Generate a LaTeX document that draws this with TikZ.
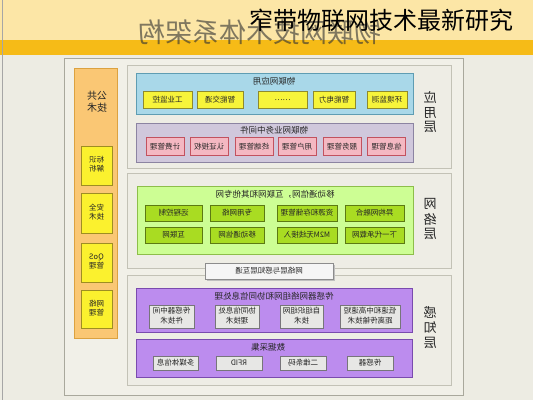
\documentclass[tikz,border=0pt]{standalone}
\usepackage{fontspec}
\setmainfont{Noto Sans CJK SC}
\usepackage{graphicx}
\newcommand\mt[1]{\reflectbox{\begin{tabular}{@{}c@{}}#1\end{tabular}}}
\definecolor{bgc}{HTML}{EDECE3}
\definecolor{topy}{HTML}{FCE6A6}
\definecolor{topo}{HTML}{F6BB17}
\definecolor{framef}{HTML}{F1F0E8}
\definecolor{framed}{HTML}{A9A89C}
\definecolor{panelf}{HTML}{EEEDE5}
\definecolor{paneld}{HTML}{C3C2B6}
\definecolor{bluef}{HTML}{A9D8E9}
\definecolor{blued}{HTML}{5F9DB3}
\definecolor{yelf}{HTML}{F7F43A}
\definecolor{yeld}{HTML}{8E8A2E}
\definecolor{midf}{HTML}{D0C8DC}
\definecolor{midd}{HTML}{8C84A2}
\definecolor{pinkf}{HTML}{F4B8C2}
\definecolor{pinkd}{HTML}{C2525F}
\definecolor{grnf}{HTML}{CDFE94}
\definecolor{grnd}{HTML}{8DBE4A}
\definecolor{gboxf}{HTML}{A9DC22}
\definecolor{gboxd}{HTML}{5C7A12}
\definecolor{purf}{HTML}{BC8CEE}
\definecolor{purd}{HTML}{7A4BAE}
\definecolor{grayf}{HTML}{E7E7E5}
\definecolor{grayd}{HTML}{77757A}
\definecolor{oraf}{HTML}{FAC774}
\definecolor{orad}{HTML}{DCA240}
\definecolor{colyf}{HTML}{FBF12E}
\definecolor{colyd}{HTML}{9E8E22}
\begin{document}
\begin{tikzpicture}[x=1pt,y=-1pt,
  boxtxt/.style={inner sep=0pt, font=\fontsize{7.5}{9}\selectfont, text=black!85},
  ybox/.style={boxtxt, draw=yeld, fill=yelf, line width=0.8pt, minimum height=17pt},
  pbox/.style={boxtxt, draw=pinkd, fill=pinkf, line width=0.7pt, minimum height=18pt, minimum width=38pt},
  gbox/.style={boxtxt, draw=gboxd, fill=gboxf, line width=0.7pt, minimum height=16pt},
  sbox/.style={boxtxt, draw=grayd, fill=grayf, line width=0.6pt, font=\fontsize{7.5}{10}\selectfont},
  cbox/.style={boxtxt, draw=colyd, fill=colyf, line width=0.7pt, minimum width=31pt, font=\fontsize{7.5}{9}\selectfont},
  head/.style={inner sep=0pt, font=\fontsize{8.5}{10}\selectfont, text=black!85},
  layer/.style={inner sep=0pt, font=\fontsize{13}{14.5}\selectfont, text=black!85},
  panel/.style={draw=paneld, fill=panelf, line width=0.8pt}]
\useasboundingbox (0,0) rectangle (533,400);
\fill[bgc] (0,0) rectangle (533,400);
\fill[topy] (0,0) rectangle (533,40);
\fill[topo] (0,40) rectangle (533,55);
\draw[gray!70, line width=0.8pt] (2.5,0) -- (2.5,400);
\node[inner sep=0pt, font=\fontsize{27}{30}\selectfont, text=black!80, opacity=0.62] (oldtitle) at (260,32) {\reflectbox{物联网技术体系架构}};
\node[inner sep=0pt, font=\fontsize{24}{26}\selectfont, text=black] (newtitle) at (381,20) {窄带物联网技术最新研究};
% main frame
\draw[draw=framed, fill=framef, line width=0.9pt] (64,58) rectangle (463,395);
% left column
\draw[draw=orad, fill=oraf, line width=0.7pt] (74,68) rectangle (117,338);
\node[inner sep=0pt, font=\fontsize{10}{11.5}\selectfont, text=black!85] (pubhead) at (97,103) {\mt{公共\\技术}};
\node[cbox, minimum height=39pt] (c1) at (96.5,165.5) {\mt{标识\\解析}};
\node[cbox, minimum height=40pt] (c2) at (96.5,213) {\mt{安全\\技术}};
\node[cbox, minimum height=39pt] (c3) at (96.5,262.5) {\mt{QoS\\管理}};
\node[cbox, minimum height=38pt] (c4) at (96.5,309) {\mt{网络\\管理}};
% layer panels
\draw[panel] (127,65) rectangle (451,168);
\draw[panel] (127,173) rectangle (451,268);
\draw[panel] (127,275) rectangle (451,385);
\node[layer] (lapp) at (430,114) {\mt{应\\用\\层}};
\node[layer] (lnet) at (430,221) {\mt{网\\络\\层}};
\node[layer] (lsen) at (430,329) {\mt{感\\知\\层}};
% application
\draw[draw=blued, fill=bluef, line width=0.8pt] (136,73) rectangle (413,114);
\node[head] (apphead) at (274,81) {\reflectbox{物联网应用}};
\node[ybox, minimum width=49pt] (a1) at (167.5,100) {\reflectbox{工业监控}};
\node[ybox, minimum width=46pt] (a2) at (220,100) {\reflectbox{智能交通}};
\node[ybox, minimum width=49pt] (a3) at (282.5,100) {……};
\node[ybox, minimum width=42pt] (a4) at (334,100) {\reflectbox{智能电力}};
\node[ybox, minimum width=40pt] (a5) at (387,100) {\reflectbox{环境监测}};
\draw[draw=midd, fill=midf, line width=0.8pt] (136,123) rectangle (413,162);
\node[head] (midhead) at (274,130.5) {\reflectbox{物联网业务中间件}};
\node[pbox] (m1) at (165,146.5) {\reflectbox{计费管理}};
\node[pbox] (m2) at (209,146.5) {\reflectbox{认证授权}};
\node[pbox] (m3) at (254,146.5) {\reflectbox{终端管理}};
\node[pbox] (m4) at (297,146.5) {\reflectbox{用户管理}};
\node[pbox] (m5) at (342,146.5) {\reflectbox{服务管理}};
\node[pbox] (m6) at (386.5,146.5) {\reflectbox{信息管理}};
% network
\draw[draw=grnd, fill=grnf, line width=0.8pt] (137,186) rectangle (413,254);
\node[head] (nethead) at (275,194) {\reflectbox{移动通信网，互联网和其他专网}};
\node[gbox, minimum width=57pt] (n1) at (173.5,213) {\reflectbox{远程控制}};
\node[gbox, minimum width=54pt] (n2) at (237,213) {\reflectbox{专用网络}};
\node[gbox, minimum width=60pt] (n3) at (307,213) {\reflectbox{资源和存储管理}};
\node[gbox, minimum width=59pt] (n4) at (374.5,213) {\reflectbox{异构网融合}};
\node[gbox, minimum width=57pt] (n5) at (173.5,235) {\reflectbox{互联网}};
\node[gbox, minimum width=54pt] (n6) at (237,235) {\reflectbox{移动通信网}};
\node[gbox, minimum width=60pt] (n7) at (307,235) {\reflectbox{M2M无线接入}};
\node[gbox, minimum width=59pt] (n8) at (374.5,235) {\reflectbox{下一代承载网}};
% bridge bar
\fill[black!25] (207,265) rectangle (335,281);
\node[boxtxt, draw=black!45, fill=white!96!black, line width=0.6pt, minimum width=128pt, minimum height=16pt] (bridge) at (269,271) {\reflectbox{网络层与感知层互通}};
% perception
\draw[draw=purd, fill=purf, line width=0.8pt] (136,288) rectangle (412,332);
\node[head] (senhead) at (274,296) {\reflectbox{传感器网络组网和协同信息处理}};
\node[sbox, minimum width=45pt, minimum height=23pt] (s1) at (171.5,316.5) {\mt{传感器中间\\件技术}};
\node[sbox, minimum width=44pt, minimum height=23pt] (s2) at (237,316.5) {\mt{协同信息处\\理技术}};
\node[sbox, minimum width=43pt, minimum height=23pt] (s3) at (301.5,316.5) {\mt{自组织组网\\技术}};
\node[sbox, minimum width=60pt, minimum height=23pt] (s4) at (370,316.5) {\mt{低速和中高速短\\距离传输技术}};
\draw[draw=purd, fill=purf, line width=0.8pt] (136,339) rectangle (412,377);
\node[head] (datahead) at (268,347) {\reflectbox{数据采集}};
\node[sbox, minimum width=45pt, minimum height=14pt] (d1) at (175.5,363) {\reflectbox{多媒体信息}};
\node[sbox, minimum width=46pt, minimum height=14pt] (d2) at (239,363) {\reflectbox{RFID}};
\node[sbox, minimum width=46pt, minimum height=14pt] (d3) at (303,363) {\reflectbox{二维条码}};
\node[sbox, minimum width=46pt, minimum height=14pt] (d4) at (370,363) {\reflectbox{传感器}};
\end{tikzpicture}
\end{document}
